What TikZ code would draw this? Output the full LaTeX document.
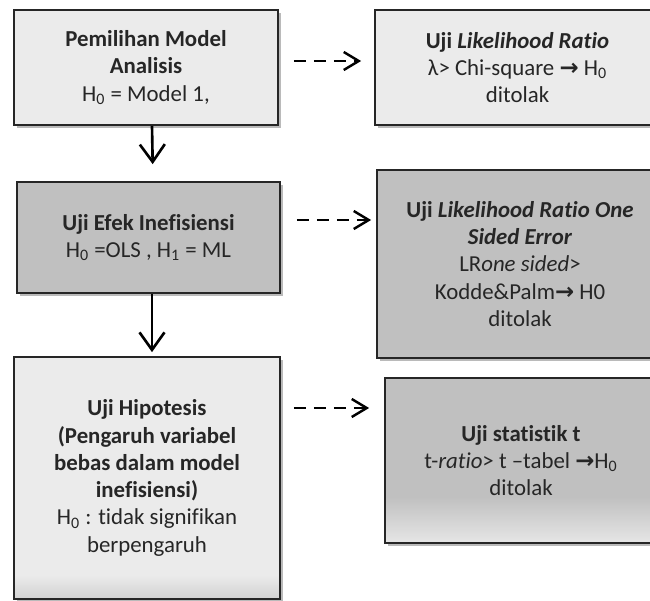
\documentclass[tikz,border=0pt]{standalone}
\usepackage{fontspec}
\setmainfont{Carlito}[Ligatures=NoCommon]
\newfontfamily\arrowfont{DejaVu Sans}
\usetikzlibrary{arrows.meta,shadows}

\definecolor{boxlight}{HTML}{EBEBEB}
\definecolor{boxdark}{HTML}{C0C0C0}
\definecolor{boxfoot}{HTML}{D2D2D2}
\definecolor{boxpale}{HTML}{E6E6E6}
% shadings: the box runs from 25bp to 75bp
\pgfdeclareverticalshading{lightfoot}{100bp}{color(0bp)=(boxfoot); color(25bp)=(boxfoot); color(30bp)=(boxlight); color(100bp)=(boxlight)}
\pgfdeclareverticalshading{darkfoot}{100bp}{color(0bp)=(boxpale); color(25bp)=(boxpale); color(39bp)=(boxdark); color(100bp)=(boxdark)}

\newcommand{\toarr}{{\arrowfont\bfseries\char"2192}}
\newcommand{\nol}{\textsubscript{0}}
\newcommand{\eins}{\textsubscript{1}}

\begin{document}
\begin{tikzpicture}[font=\fontsize{13}{15.5}\selectfont]
\tikzset{el/.style={draw=black!85, line width=1pt, rectangle, align=center, text=black!85,
  drop shadow={shadow xshift=1.5pt, shadow yshift=-1.5pt, fill=black!45, opacity=.6}},
  down/.style={line width=1.5pt, -{Straight Barb[length=.35cm, width=.5cm, line width=1.5pt]}},
  side/.style={line width=1.4pt, dash pattern=on .24cm off .16cm,
  -{Straight Barb[length=.3cm, width=.36cm, line width=1.4pt]}}}

\clip (0,0) rectangle (13,-12.02);

% Left column
\node[el, fill=boxlight, minimum width=5.28cm, minimum height=2.3cm] (pemilihan) at (2.92,-1.35)
{\textbf{Pemilihan Model}\\\textbf{Analisis}\\H\nol{} = Model 1,};
\node[el, fill=boxdark, minimum width=5.26cm, minimum height=2.22cm] (efek) at (2.97,-4.75)
{\textbf{Uji Efek Inefisiensi}\\H\nol{} =OLS , H\eins{} = ML};
\node[el, shading=lightfoot, minimum width=5.32cm, minimum height=4.84cm] (hipotesis) at (2.94,-9.56)
{\textbf{Uji Hipotesis}\\\textbf{(Pengaruh variabel}\\\textbf{bebas dalam model}\\\textbf{inefisiensi)}\\
H\nol{} : tidak signifikan\\berpengaruh};

% Right column
\node[el, fill=boxlight, minimum width=5.7cm, minimum height=2.3cm] (lr) at (10.35,-1.35)
{\textbf{Uji \textit{Likelihood Ratio}}\\λ> Chi-square \toarr{} H\nol\\ditolak};
\node[el, fill=boxdark, minimum width=5.72cm, minimum height=3.76cm] (lrone) at (10.4,-5.28)
{\textbf{Uji \textit{Likelihood Ratio One}}\\\textbf{\textit{Sided Error}}\\LR\textit{one sided}>\\
Kodde\&Palm\toarr{} H0\\ditolak};
\node[el, shading=darkfoot, minimum width=5.44cm, minimum height=3.3cm] (ujit) at (10.42,-9.21)
{\textbf{Uji statistik t}\\t-\textit{ratio}> t --tabel \toarr H\nol\\ditolak};

% Connections
\draw[down, shorten >=.34cm] ([xshift=.12cm]pemilihan.south) -- ([xshift=.09cm]efek.north);
\draw[down, shorten >=.08cm] ([xshift=.07cm]efek.south) -- ([xshift=.1cm]hipotesis.north);

\draw[side, shorten <=.3cm, shorten >=.26cm] (pemilihan.east |- 0,-1.22) -- (lr.west |- 0,-1.22);
\draw[side, shorten <=.32cm, shorten >=.1cm] (efek.east |- 0,-4.4) -- (lrone.west |- 0,-4.4);
\draw[side, shorten <=.26cm, shorten >=.3cm] (hipotesis.east |- 0,-8.16) -- (ujit.west |- 0,-8.16);

\end{tikzpicture}
\end{document}
